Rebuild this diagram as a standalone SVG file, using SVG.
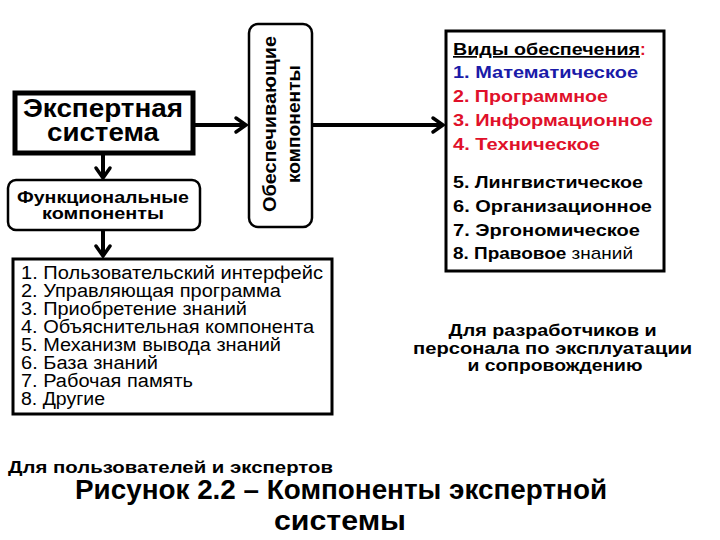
<svg xmlns="http://www.w3.org/2000/svg" width="720" height="540" viewBox="0 0 720 540">
<style>
.b{font-family:"Liberation Sans",Arial,sans-serif;font-weight:bold;fill:#000}
.r{font-family:"Liberation Sans",Arial,sans-serif;fill:#000}
.ln{stroke:#000;stroke-width:4;fill:none}
.ah{stroke:#000;stroke-width:3.5;fill:none;stroke-linecap:round;stroke-linejoin:miter}
.red{fill:#e0102a}
.blue{fill:#1a1aa8}
</style>
<rect width="720" height="540" fill="#fff"/>
<g id="connectors">
<line class="ln" x1="195" y1="125" x2="244" y2="125"/>
<path class="ah" d="M236,118 L246,125 L236,132"/>
<line class="ln" x1="312" y1="125" x2="441" y2="125"/>
<path class="ah" d="M433,118 L443,125 L433,132"/>
<line class="ln" x1="103" y1="155" x2="103" y2="176"/>
<path class="ah" d="M96,168 L103,178 L110,168"/>
<line class="ln" x1="103" y1="230" x2="103" y2="254"/>
<path class="ah" d="M96,246 L103,256 L110,246"/>
</g>
<g id="expert">
<rect x="15" y="93" width="178" height="60" fill="#fff" stroke="#000" stroke-width="5"/>
<text class="b" x="103" y="117" font-size="25" text-anchor="middle" textLength="160" lengthAdjust="spacingAndGlyphs">Экспертная</text>
<text class="b" x="103" y="141" font-size="25" text-anchor="middle" textLength="112" lengthAdjust="spacingAndGlyphs">система</text>
</g>
<g id="functional">
<rect x="8" y="180" width="192" height="50" rx="8" fill="#fff" stroke="#000" stroke-width="2.5"/>
<text class="b" x="103" y="203" font-size="17" text-anchor="middle" textLength="172" lengthAdjust="spacingAndGlyphs">Функциональные</text>
<text class="b" x="103" y="219" font-size="17" text-anchor="middle" textLength="122" lengthAdjust="spacingAndGlyphs">компоненты</text>
</g>
<g id="support">
<rect x="249" y="24" width="63" height="203" rx="9" fill="#fff" stroke="#000" stroke-width="2.5"/>
<text class="b" font-size="18" text-anchor="middle" textLength="176" lengthAdjust="spacingAndGlyphs" transform="translate(276,124) rotate(-90)">Обеспечивающие</text>
<text class="b" font-size="18" text-anchor="middle" textLength="118" lengthAdjust="spacingAndGlyphs" transform="translate(300,124) rotate(-90)">компоненты</text>
</g>
<g id="list">
<rect x="13" y="259" width="319" height="155" fill="#fff" stroke="#000" stroke-width="3"/>
<text class="r" font-size="18">
<tspan x="21" y="279" textLength="302" lengthAdjust="spacingAndGlyphs">1. Пользовательский интерфейс</tspan>
<tspan x="21" y="297" textLength="260" lengthAdjust="spacingAndGlyphs">2. Управляющая программа</tspan>
<tspan x="21" y="315" textLength="226" lengthAdjust="spacingAndGlyphs">3. Приобретение знаний</tspan>
<tspan x="21" y="333" textLength="293" lengthAdjust="spacingAndGlyphs">4. Объяснительная компонента</tspan>
<tspan x="21" y="351" textLength="260" lengthAdjust="spacingAndGlyphs">5. Механизм вывода знаний</tspan>
<tspan x="21" y="369" textLength="137" lengthAdjust="spacingAndGlyphs">6. База знаний</tspan>
<tspan x="21" y="387" textLength="172" lengthAdjust="spacingAndGlyphs">7. Рабочая память</tspan>
<tspan x="21" y="405" textLength="84" lengthAdjust="spacingAndGlyphs">8. Другие</tspan>
</text>
</g>
<g id="types">
<rect x="446" y="31" width="218" height="240" fill="#fff" stroke="#000" stroke-width="3"/>
<text class="b" font-size="17" x="453" y="55"><tspan text-decoration="underline" textLength="187" lengthAdjust="spacingAndGlyphs">Виды обеспечения</tspan><tspan class="red">:</tspan></text>
<text class="b blue" font-size="17" x="453" y="78" textLength="185" lengthAdjust="spacingAndGlyphs">1. Математическое</text>
<text class="b red" font-size="17" x="453" y="102" textLength="155" lengthAdjust="spacingAndGlyphs">2. Программное</text>
<text class="b red" font-size="17" x="453" y="126" textLength="200" lengthAdjust="spacingAndGlyphs">3. Информационное</text>
<text class="b red" font-size="17" x="453" y="150" textLength="147" lengthAdjust="spacingAndGlyphs">4. Техническое</text>
<text class="b" font-size="17" x="453" y="188" textLength="190" lengthAdjust="spacingAndGlyphs">5. Лингвистическое</text>
<text class="b" font-size="17" x="453" y="212" textLength="199" lengthAdjust="spacingAndGlyphs">6. Организационное</text>
<text class="b" font-size="17" x="453" y="236" textLength="187" lengthAdjust="spacingAndGlyphs">7. Эргономическое</text>
<text class="b" font-size="17" x="453" y="259" textLength="180" lengthAdjust="spacingAndGlyphs">8. Правовое <tspan font-weight="normal">знаний</tspan></text>
</g>
<g id="devs">
<text class="b" font-size="17" text-anchor="middle">
<tspan x="555" y="336" textLength="208" lengthAdjust="spacingAndGlyphs">Для разработчиков и</tspan>
<tspan x="555" y="354" textLength="279" lengthAdjust="spacingAndGlyphs">персонала по эксплуатации</tspan>
<tspan x="555" y="371" textLength="175" lengthAdjust="spacingAndGlyphs">и сопровождению</tspan>
</text>
</g>
<g id="users">
<text class="b" font-size="17" x="8" y="473" textLength="325" lengthAdjust="spacingAndGlyphs">Для пользователей и экспертов</text>
</g>
<g id="caption">
<text class="b" font-size="27" x="75" y="499" textLength="532" lengthAdjust="spacingAndGlyphs">Рисунок 2.2 – Компоненты экспертной</text>
<text class="b" font-size="27" x="340" y="530" text-anchor="middle" textLength="132" lengthAdjust="spacingAndGlyphs">системы</text>
</g>
</svg>
